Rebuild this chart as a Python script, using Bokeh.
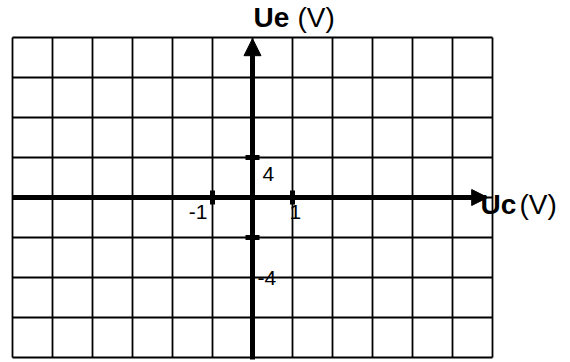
from bokeh.plotting import figure
from bokeh.models import Arrow, NormalHead, ColumnDataSource, Range1d
from bokeh.embed import file_html
from bokeh.resources import INLINE
from bokeh.core.properties import value

# grid (in grid units)
grid_x = [-6, -5, -4, -3, -2, -1, 0, 1, 2, 3, 4, 5, 6]
grid_y = [-4, -3, -2, -1, 0, 1, 2, 3, 4]
# axis graduation marks
tick_x = [-1, 1]
tick_y = [-1, 1]
# number labels (text, x, y)
num_text = ["4", "-1", "1", "-4"]
num_x = [0, -1, 1, 0]
num_y = [1, 0, 0, -2]
num_align = ["left", "right", "left", "left"]
num_xoff = [10, -5, -3, 5]
num_yoff = [16, 14, 14, 0]
num_base = ["middle", "middle", "middle", "middle"]

W, H = 562, 360
PX = 40.0
x0 = -6 - 12 / PX
y1 = 4 + 37 / PX
p = figure(width=W, height=H, output_backend="svg", toolbar_location=None,
           x_range=Range1d(x0, x0 + W / PX), y_range=Range1d(y1 - H / PX, y1),
           min_border=0, outline_line_color=None)
p.axis.visible = False
p.grid.visible = False
p.background_fill_color = "white"
p.border_fill_color = "white"

xmin, xmax = min(grid_x), max(grid_x)
ymin, ymax = min(grid_y), max(grid_y)

# grid lines
p.segment(x0=grid_x, y0=[ymin] * len(grid_x), x1=grid_x, y1=[ymax] * len(grid_x),
          line_color="black", line_width=1.8)
p.segment(x0=[xmin] * len(grid_y), y0=grid_y, x1=[xmax] * len(grid_y), y1=grid_y,
          line_color="black", line_width=1.8)

# axes with arrows
p.add_layout(Arrow(end=NormalHead(size=16, fill_color="black", line_color="black", line_width=1),
                   x_start=xmin, y_start=0, x_end=5.88, y_end=0,
                   line_width=5, line_color="black"))
p.add_layout(Arrow(end=NormalHead(size=17, fill_color="black", line_color="black", line_width=1),
                   x_start=0, y_start=ymin - 0.05, x_end=0, y_end=3.97,
                   line_width=5, line_color="black"))

# graduation marks
p.rect(x=tick_x, y=[0, 0], width=5, height=14, width_units="screen", height_units="screen",
       fill_color="black", line_color=None)
p.rect(x=[0, 0], y=tick_y, width=14, height=5, width_units="screen", height_units="screen",
       fill_color="black", line_color=None)

src = ColumnDataSource(dict(t=num_text, x=num_x, y=num_y, a=num_align, xo=num_xoff, yo=num_yoff, b=num_base))
p.text(x="x", y="y", text="t", source=src, text_align="a", x_offset="xo", y_offset="yo",
       text_baseline="b", text_font=value("Liberation Sans"), text_font_size="21px", text_color="black")

# axis titles
p.text(x=[0], y=[4], text=["Ue"], x_offset=1, y_offset=-20, text_align="left", text_baseline="alphabetic",
       text_font=value("Liberation Sans"), text_font_style="bold", text_font_size="28px", text_color="black")
p.text(x=[0], y=[4], text=["(V)"], x_offset=45, y_offset=-20, text_align="left", text_baseline="alphabetic",
       text_font=value("Liberation Sans"), text_font_size="28px", text_color="black")
p.text(x=[6], y=[0], text=["Uc"], x_offset=-12, y_offset=7, text_align="left", text_baseline="alphabetic",
       text_font=value("Liberation Sans"), text_font_style="bold", text_font_size="28px", text_color="black")
p.text(x=[6], y=[0], text=["(V)"], x_offset=27, y_offset=7, text_align="left", text_baseline="alphabetic",
       text_font=value("Liberation Sans"), text_font_size="28px", text_color="black")

open("out.html", "w").write(file_html(p, INLINE))
